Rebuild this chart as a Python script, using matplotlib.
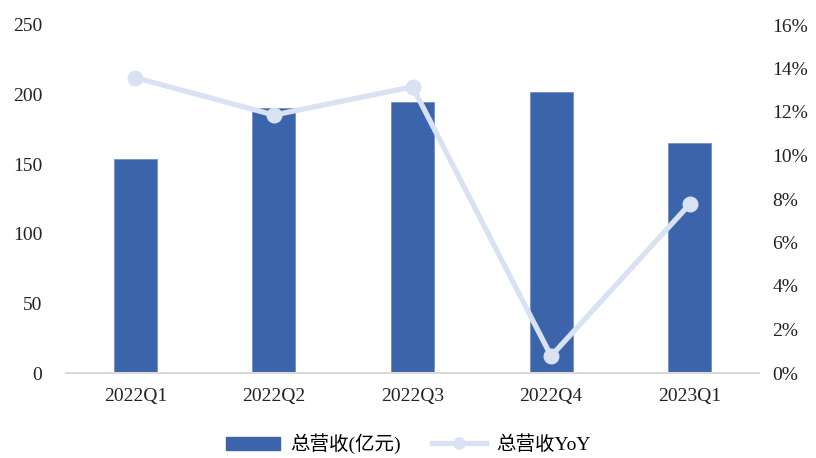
import matplotlib
matplotlib.use("Agg")
import matplotlib.pyplot as plt
from matplotlib.ticker import FuncFormatter, MultipleLocator
from matplotlib.lines import Line2D
from matplotlib.patches import Patch

plt.rcParams['font.family'] = ['Liberation Serif', 'Noto Sans CJK SC', 'DejaVu Sans']

quarters = ["2022Q1", "2022Q2", "2022Q3", "2022Q4", "2023Q1"]
revenue = [153.4, 190.4, 194.9, 201.6, 165.0]          # 亿元
revenue_yoy = [13.58, 11.86, 13.16, 0.78, 7.76]         # %

bar_color = "#3C64AA"
line_color = "#D9E2F3"

fig = plt.figure(figsize=(8.16, 4.58), dpi=100)
ax = fig.add_axes([66 / 816, 1 - 373 / 458, (759 - 66) / 816, (373 - 25) / 458])
ax2 = ax.twinx()

x = list(range(len(quarters)))
ax.bar(x, revenue, width=0.31, color=bar_color, edgecolor="#6F8FC8", linewidth=0.6, zorder=2)
ax.set_xlim(-0.5, len(quarters) - 0.5)
ax.set_ylim(0, 250)
ax.yaxis.set_major_locator(MultipleLocator(50))

ax2.plot(x, revenue_yoy, color=line_color, linewidth=3.8, marker="o", markersize=10.5,
         solid_capstyle="round", zorder=3)
ax2.set_ylim(0, 16)
ax2.yaxis.set_major_locator(MultipleLocator(2))
ax2.yaxis.set_major_formatter(FuncFormatter(lambda v, p: f"{v:.0f}%"))

ax.set_zorder(1)
ax2.set_zorder(2)
ax2.patch.set_visible(False)

ax.set_xticks(x)
ax.set_xticklabels(quarters)

for a in (ax, ax2):
    for s in a.spines.values():
        s.set_visible(False)
    a.tick_params(length=0, labelsize=14, colors="#222222")
ax.spines["bottom"].set_visible(True)
ax.spines["bottom"].set_color("#D9D9D9")
ax.spines["bottom"].set_linewidth(1.5)
ax.tick_params(axis="y", pad=17)
ax.tick_params(axis="x", pad=11)
ax2.tick_params(axis="y", pad=9.5)

handles = [
    Patch(facecolor=bar_color, edgecolor=bar_color),
    Line2D([0], [0], color=line_color, linewidth=3.8, marker="o", markersize=8),
]
labels = ["总营收(亿元)", "总营收YoY"]
fig.legend(handles, labels, loc="center", bbox_to_anchor=(0.5, 1 - 444 / 458), ncol=2,
           frameon=False, handlelength=2.8, handletextpad=0.5, columnspacing=1.6,
           prop={'family': ['Liberation Serif', 'Noto Sans CJK SC'], 'size': 14})

fig.savefig("out.png", dpi=100)
